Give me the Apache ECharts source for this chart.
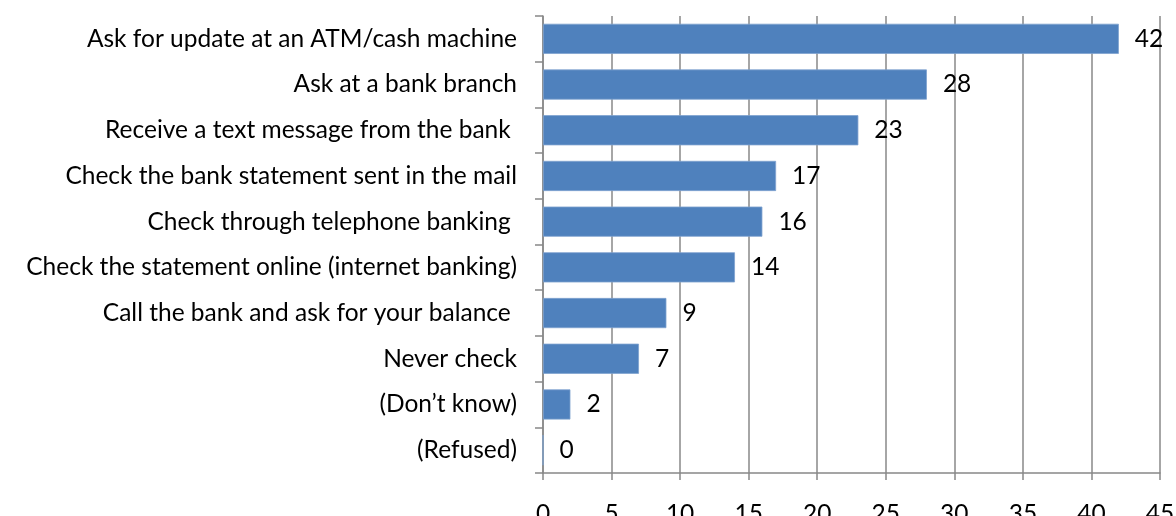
<!DOCTYPE html>
<html>
<head>
<meta charset="utf-8">
<script src="https://cdn.jsdelivr.net/npm/echarts@6/dist/echarts.min.js"></script>
<style>
  html, body { margin: 0; padding: 0; background: #fff; }
  #chart { width: 1176px; height: 516px; }
</style>
</head>
<body>
<div id="chart"></div>
<script>
// Ways of checking a bank balance (share of respondents)
const categories = [
  "Ask for update at an ATM/cash machine",
  "Ask at a bank branch",
  "Receive a text message from the bank ",
  "Check the bank statement sent in the mail",
  "Check through telephone banking ",
  "Check the statement online (internet banking)",
  "Call the bank and ask for your balance ",
  "Never check",
  "(Don\u2019t know)",
  "(Refused)"
];
const values = [42, 28, 23, 17, 16, 14, 9, 7, 2, 0];
const axisMin = 0, axisMax = 45, axisStep = 5;

const FONT = "Lato";
const FONT_SIZE = 24.5;
const GRID_COLOR = "#888888";

const chart = echarts.init(document.getElementById("chart"), null, { renderer: "canvas" });
chart.setOption({
  animation: false,
  backgroundColor: "#ffffff",
  grid: {
    left: 543, right: 16, top: 16, bottom: 43,
    containLabel: false, outerBoundsMode: "none"
  },
  xAxis: {
    type: "value",
    min: axisMin, max: axisMax, interval: axisStep,
    axisLine: { show: true, lineStyle: { color: GRID_COLOR, width: 1.5 } },
    axisTick: { show: true, length: 7, lineStyle: { color: GRID_COLOR, width: 1.5 } },
    splitLine: { show: true, lineStyle: { color: GRID_COLOR, width: 1.5 } },
    axisLabel: { color: "#000", fontFamily: FONT, fontSize: FONT_SIZE, margin: 29 }
  },
  yAxis: {
    type: "category",
    data: categories,
    inverse: true,
    axisLine: { show: true, lineStyle: { color: GRID_COLOR, width: 1.5 } },
    axisTick: { show: true, length: 8, lineStyle: { color: GRID_COLOR, width: 1.5 } },
    splitLine: { show: false },
    axisLabel: { color: "#000", fontFamily: FONT, fontSize: FONT_SIZE, margin: 26 }
  },
  series: [{
    type: "bar",
    data: values,
    barCategoryGap: "34%",
    itemStyle: { color: "#4F81BD", borderColor: "#7FA2CF", borderWidth: 0.8 },
    label: {
      show: true, position: "right", distance: 16,
      color: "#000", fontFamily: FONT, fontSize: FONT_SIZE
    }
  }]
});
</script>
</body>
</html>
